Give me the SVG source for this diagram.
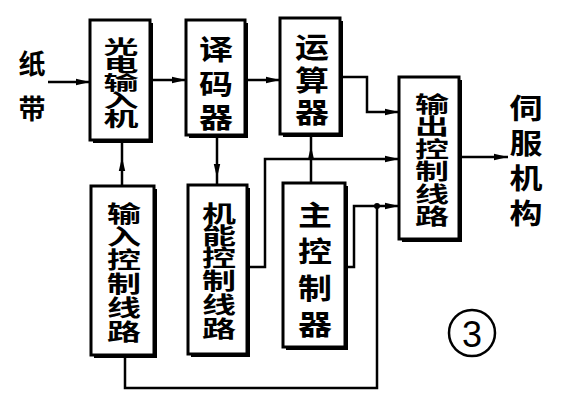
<svg xmlns="http://www.w3.org/2000/svg" width="566" height="400" viewBox="0 0 566 400">
<style>
.bx{fill:#fff;stroke:#000;stroke-width:3}
.sh{fill:#000}
.c{fill:none;stroke:#000;stroke-width:2.5}
.t{font-family:"Noto Sans CJK SC","Noto Sans CJK TC",sans-serif;font-weight:bold;font-size:34px;text-anchor:middle;dominant-baseline:central;fill:#000}
.n{font-family:"Liberation Sans",Arial,sans-serif;font-size:36px;text-anchor:middle;dominant-baseline:central}
</style>
<defs>
<marker id="ah" markerUnits="userSpaceOnUse" markerWidth="14" markerHeight="8" refX="14" refY="4" orient="auto">
<path d="M0,0.8 L14,4 L0,7.2 z" fill="#000"/>
</marker>
</defs>
<rect width="566" height="400" fill="#fff"/>

<g id="labels">
<text class="t" x="32" y="62" style="font-size:27px">纸</text>
<text class="t" x="32" y="107" style="font-size:27px">带</text>
<text class="t" transform="translate(526,0) scale(1,0.85)" style="font-size:33px"><tspan x="0" y="124.7">伺</tspan><tspan x="0" y="165.9">服</tspan><tspan x="0" y="207.1">机</tspan><tspan x="0" y="248.2">构</tspan></text>
</g>

<g id="n1">
<rect class="sh" x="93" y="23" width="60" height="120"/>
<rect class="bx" x="90" y="20" width="60" height="120"/>
<text class="t" transform="translate(121,0) scale(1,0.55)" style="font-size:35px"><tspan x="0" y="81.8">光</tspan><tspan x="0" y="114.5">电</tspan><tspan x="0" y="147.3">输</tspan><tspan x="0" y="180">入</tspan><tspan x="0" y="212.7">机</tspan></text>
</g>

<g id="n2">
<rect class="sh" x="189" y="23" width="59" height="115"/>
<rect class="bx" x="186" y="20" width="59" height="115"/>
<text class="t" transform="translate(216,0) scale(1,0.85)"><tspan x="0" y="55.3">译</tspan><tspan x="0" y="96.5">码</tspan><tspan x="0" y="135.3">器</tspan></text>
</g>

<g id="n3">
<rect class="sh" x="283" y="21" width="60" height="116"/>
<rect class="bx" x="280" y="18" width="60" height="116"/>
<text class="t" transform="translate(312,0) scale(1,0.85)"><tspan x="0" y="52.9">运</tspan><tspan x="0" y="91.8">算</tspan><tspan x="0" y="129.4">器</tspan></text>
</g>

<g id="n4">
<rect class="sh" x="402" y="80" width="60" height="162"/>
<rect class="bx" x="399" y="77" width="60" height="162"/>
<text class="t" transform="translate(432,0) scale(1,0.64)"><tspan x="0" y="159.4">输</tspan><tspan x="0" y="193.75">出</tspan><tspan x="0" y="229.7">控</tspan><tspan x="0" y="264.1">制</tspan><tspan x="0" y="300">线</tspan><tspan x="0" y="334.4">路</tspan></text>
</g>

<g id="n5">
<rect class="sh" x="94" y="189" width="63" height="169"/>
<rect class="bx" x="91" y="186" width="63" height="169"/>
<text class="t" transform="translate(124,0) scale(1,0.66)"><tspan x="0" y="321.2">输</tspan><tspan x="0" y="356.1">入</tspan><tspan x="0" y="390.9">控</tspan><tspan x="0" y="427.3">制</tspan><tspan x="0" y="463.6">线</tspan><tspan x="0" y="500">路</tspan></text>
</g>

<g id="n6">
<rect class="sh" x="191" y="188" width="59" height="169"/>
<rect class="bx" x="188" y="185" width="59" height="169"/>
<text class="t" transform="translate(219,0) scale(1,0.66)"><tspan x="0" y="321.2">机</tspan><tspan x="0" y="354.5">能</tspan><tspan x="0" y="387.9">控</tspan><tspan x="0" y="422.7">制</tspan><tspan x="0" y="459.1">线</tspan><tspan x="0" y="495.5">路</tspan></text>
</g>

<g id="n7">
<rect class="sh" x="286" y="186" width="62" height="164"/>
<rect class="bx" x="283" y="183" width="62" height="164"/>
<text class="t" transform="translate(315,0) scale(1,0.85)"><tspan x="0" y="250.6">主</tspan><tspan x="0" y="292.9">控</tspan><tspan x="0" y="336.5">制</tspan><tspan x="0" y="378.8">器</tspan></text>
</g>

<g id="connectors">
<path class="c" d="M48,82 H90" marker-end="url(#ah)"/>
<path class="c" d="M153,80 H186" marker-end="url(#ah)"/>
<path class="c" d="M248,80 H280" marker-end="url(#ah)"/>
<path class="c" d="M343,77 H367 V112 H399" marker-end="url(#ah)"/>
<path class="c" d="M462,157 H508" marker-end="url(#ah)"/>
<path class="c" d="M122,186 L122,157 L122,143" marker-mid="url(#ah)"/>
<path class="c" d="M217,138 L217,178 L217,185" marker-mid="url(#ah)"/>
<path class="c" d="M311,183 L311,146 L311,137" marker-mid="url(#ah)"/>
<path class="c" d="M250,267 H265 V159 H399" marker-end="url(#ah)"/>
<path class="c" d="M348,267 H354 V206 H399" marker-end="url(#ah)"/>
<path class="c" d="M125,358 V388 H377 V206"/>
<circle cx="377" cy="206" r="3" fill="#000"/>
</g>

<g id="mark">
<circle cx="472" cy="333" r="23" fill="none" stroke="#000" stroke-width="2.5"/>
<text class="n" x="472" y="334">3</text>
</g>
</svg>
